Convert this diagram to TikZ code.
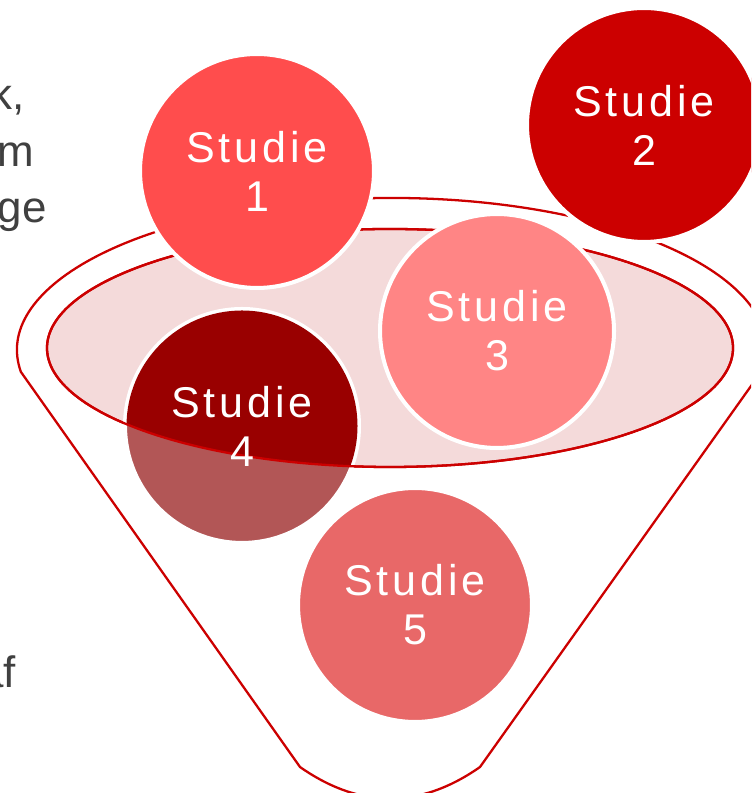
\documentclass[tikz,border=0pt]{standalone}
\usepackage{fontspec}
\setmainfont{Liberation Sans}
\newfontfamily\studiefont[LetterSpace=9]{Liberation Sans}

\definecolor{funnelred}{HTML}{CC0000}
\definecolor{rimpink}{HTML}{F4DADA}
\definecolor{textgray}{HTML}{404040}
\definecolor{st1}{HTML}{FF4D4D}
\definecolor{st2}{HTML}{CC0000}
\definecolor{st3}{HTML}{FF8585}
\definecolor{st4}{HTML}{990000}
\definecolor{st4low}{HTML}{B25656}
\definecolor{st5}{HTML}{E86868}

\tikzset{
  funnel/.style={draw=funnelred, line width=1.3pt, line join=round},
  rim/.style={draw=funnelred, line width=1.3pt},
  studietext/.style={text=white, align=center, inner sep=0pt,
    font=\studiefont\fontsize{24.5}{27.9}\selectfont},
  studie/.style={studietext, circle, minimum size=4.68cm, draw=white, line width=2.3pt},
  sidetext/.style={text=textgray, inner sep=0pt, anchor=base east,
    font=\fontsize{25}{30}\selectfont}
}

\begin{document}
\begin{tikzpicture}[x=0.02cm, y=0.02cm]
    \useasboundingbox (0,0) rectangle (751,793);
    \clip (0,0) rectangle (751,793);

    \node[sidetext] (line1) at (25,683) {k,};
    \node[sidetext] (line2) at (34,626) {m};
    \node[sidetext] (line3) at (47,570) {ge};
    \node[sidetext] (line4) at (16,105) {af};

    \coordinate (topL) at (20.9,421.1);
    \coordinate (topR) at (764.7,426.1);
    \coordinate (botL) at (300,26);
    \coordinate (botR) at (480,26);
    \draw[funnel] (topL) arc[start angle=188.3, end angle=-6.4, x radius=375, y radius=152]
      -- (botR) .. controls (420,-16) and (360,-16) .. (botL) -- cycle;

    \coordinate (rimc) at (390,445);
    \filldraw[rim, fill=rimpink] (rimc) ellipse[x radius=343, y radius=119];

    \node[studie, fill=st4low] (s4) at (242,367) {};
    \begin{scope}
      \clip (rimc) ellipse[x radius=343, y radius=119];
      \fill[st4] (s4.center) circle[radius=115.5];
    \end{scope}
    \draw[rim] (rimc) ellipse[x radius=343, y radius=119];
    \node[studietext] (s4text) at (s4) {Studie\\4};

    \node[studie, fill=st5] (s5) at (415,188) {Studie\\5};
    \node[studie, fill=st1] (s1) at (257,622) {Studie\\1};
    \node[studie, fill=st3] (s3) at (497,462) {Studie\\3};
    \node[studie, fill=st2] (s2) at (644,668) {Studie\\2};
  \end{tikzpicture}
\end{document}
